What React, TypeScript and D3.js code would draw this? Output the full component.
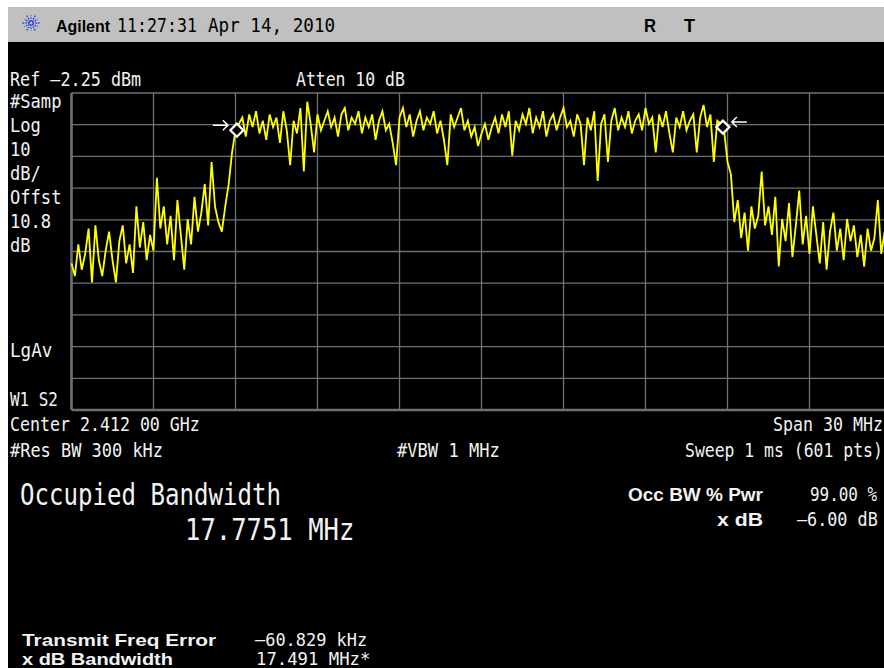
import * as d3 from "d3";

// sweep: 2.397 GHz .. 2.427 GHz, trace sampled every 125 kHz (dBm)
const spanStart = 2397;
const spanStop = 2427;
const stepMHz = 0.125;
const refLevel = -2.25;
const dbPerDiv = 10;

const traceDbm = [
  -56, -60, -50, -58, -53, -45, -62, -44, -55, -60,
  -52, -46, -55, -62, -49, -44, -56, -50, -59, -38,
  -51, -43, -55, -47, -52, -29, -45, -38, -50, -41,
  -55, -36, -47, -58, -42, -50, -35, -46, -40, -31,
  -44, -24, -38, -43, -46, -38, -31, -21, -14, -12,
  -10, -16, -9, -13, -8, -15, -11, -17, -9, -13,
  -10, -18, -8, -14, -25, -11, -15, -7, -27, -5,
  -12, -21, -9, -14, -11, -8, -13, -10, -16, -9,
  -7, -14, -10, -12, -8, -15, -10, -13, -9, -17,
  -11, -8, -14, -12, -18, -25, -10, -7, -13, -9,
  -16, -11, -8, -14, -10, -12, -8, -15, -11, -17,
  -25, -9, -13, -10, -7, -14, -11, -16, -13, -19,
  -15, -12, -17, -13, -10, -15, -9, -13, -8, -22,
  -11, -14, -9, -12, -7, -15, -10, -13, -8, -16,
  -11, -9, -14, -10, -7, -13, -11, -16, -9, -12,
  -25, -10, -14, -8, -30, -12, -9, -24, -11, -7,
  -14, -10, -13, -8, -15, -11, -9, -14, -7, -12,
  -10, -21, -9, -13, -8, -15, -21, -10, -13, -8,
  -14, -11, -9, -21, -10, -6, -13, -9, -24, -11,
  -12, -14, -24, -28, -43,
  -36, -48, -40, -52, -38, -45, -41, -27, -44, -38,
  -47, -35, -57, -42, -49, -37, -54, -44, -33, -50,
  -41, -53, -38, -47, -56, -43, -58, -46, -40, -52,
  -45, -55, -42, -49, -44, -54, -47, -57, -45, -52,
  -48, -36, -53, -46, -50, -44,
];

// occupied bandwidth markers (MHz, dBm)
const markerFreqs = [2403.05, 2420.83];
const markerLevels = [-14.0, -13.0];
const markerSides = ["left", "right"];

const sideLabels = ["#Samp", "Log", "10", "dB/", "Offst", "10.8", "dB"];

const mono = "'DejaVu Sans Mono', 'Liberation Mono', monospace";
const sans = "'Liberation Sans', 'DejaVu Sans', sans-serif";
const monoAdvance = 0.602;

// mono text squeezed horizontally to the instrument's narrow cell width
function Label({ x, y, text, cw = 10.1, size = 19, fill = "#f2f2f2" }) {
  const sx = cw / (monoAdvance * size);
  return (
    <text transform={`translate(${x},${y}) scale(${sx},1)`} fontFamily={mono} fontSize={size} fill={fill}>
      {text}
    </text>
  );
}

function BoldLabel({ x, y, text, w, size = 18, fill = "#f2f2f2" }) {
  return (
    <text
      x={x}
      y={y}
      fontFamily={sans}
      fontSize={size}
      fontWeight="bold"
      fill={fill}
      textLength={w}
      lengthAdjust="spacingAndGlyphs"
    >
      {text}
    </text>
  );
}

function Logo({ cx, cy }) {
  return (
    <g stroke="#2440d8" strokeWidth={1.4} strokeDasharray="1.6,1.1">
      {d3.range(12).map((i) => {
        const a = (i / 12) * Math.PI * 2;
        const r = i % 2 ? 7.5 : 9.5;
        return (
          <line key={i} x1={cx + Math.cos(a) * 1.5} y1={cy + Math.sin(a) * 1.5} x2={cx + Math.cos(a) * r} y2={cy + Math.sin(a) * r} />
        );
      })}
    </g>
  );
}

export default function App() {
  const width = 884;
  const height = 668;
  const x = d3.scaleLinear().domain([spanStart, spanStop]).range([71.5, 891.5]);
  const y = d3.scaleLinear().domain([refLevel - dbPerDiv * 10, refLevel]).range([410, 93]);
  const vLines = d3.range(11).map((i) => spanStart + i * 3);
  const hLines = d3.range(11).map((i) => refLevel - i * dbPerDiv);
  const line = d3
    .line()
    .x((d, i) => x(spanStart + i * stepMHz))
    .y((d) => y(d));

  return (
    <svg width={width} height={height} style={{ position: "absolute", left: 0, top: 0, display: "block" }}>
      <rect width={width} height={height} fill="#fff" />
      <rect x={8} y={7} width={width - 8} height={35} fill="#c0c0c0" />
      <rect x={8} y={42} width={width - 8} height={height - 42} fill="#000" />

      {/* title bar */}
      <Logo cx={31} cy={23} />
      <BoldLabel x={56} y={32} text="Agilent" w={54} size={17} fill="#000" />
      <Label x={117} y={32} text="11:27:31" cw={10} size={20} fill="#000" />
      <Label x={208} y={32} text="Apr 14, 2010" cw={10.6} size={20} fill="#000" />
      <BoldLabel x={644} y={32} text="R" w={12} size={19} fill="#000" />
      <BoldLabel x={684} y={32} text="T" w={11} size={19} fill="#000" />

      {/* graticule */}
      <g stroke="#707070">
        {hLines.map((v, i) => (
          <line key={"h" + i} x1={x(spanStart)} x2={x(spanStop)} y1={y(v)} y2={y(v)} strokeWidth={i === 10 ? 2.4 : 1.3} />
        ))}
        {vLines.map((f, i) => (
          <line key={"v" + i} x1={x(f)} x2={x(f)} y1={y(refLevel)} y2={y(refLevel - 100)} strokeWidth={i === 0 ? 2.6 : 1.3} />
        ))}
      </g>

      {/* trace */}
      <path d={line(traceDbm)} fill="none" stroke="#ffff00" strokeWidth={1.8} strokeLinejoin="miter" />

      {/* markers */}
      {markerFreqs.map((f, i) => {
        const mx = x(f);
        const my = y(markerLevels[i]);
        const dir = markerSides[i] === "left" ? -1 : 1;
        const a0 = mx + dir * 24;
        const a1 = mx + dir * 9;
        const ay = my - 5;
        return (
          <g key={i} stroke="#fff" fill="none">
            <path d={`M${mx},${my - 6.5}L${mx + 6.5},${my}L${mx},${my + 6.5}L${mx - 6.5},${my}Z`} fill="#000" strokeWidth={2.3} />
            <path d={`M${a0},${ay}L${a1},${ay}M${a1 + dir * 5},${ay - 5}L${a1},${ay}L${a1 + dir * 5},${ay + 5}`} strokeWidth={1.5} />
          </g>
        );
      })}

      {/* annotations */}
      <Label x={10} y={86} text="Ref –2.25 dBm" />
      <Label x={296} y={86} text="Atten 10 dB" cw={9.9} />
      {sideLabels.map((t, i) => (
        <Label key={t + i} x={10} y={108 + i * 24} text={t} cw={10.3} />
      ))}
      <Label x={10} y={357} text="LgAv" cw={10.6} />
      <Label x={10} y={406} text="W1  S2" cw={9.6} />
      <Label x={10} y={431} text="Center 2.412 00 GHz" cw={10} />
      <Label x={773} y={431} text="Span 30 MHz" cw={10} />
      <Label x={10} y={457} text="#Res BW 300 kHz" cw={10.2} />
      <Label x={397} y={457} text="#VBW 1 MHz" cw={10.3} />
      <Label x={685} y={457} text="Sweep 1 ms (601 pts)" cw={9.9} />

      <Label x={20} y={505} text="Occupied Bandwidth" cw={14.5} size={31} />
      <Label x={185} y={540} text="17.7751 MHz" cw={15.4} size={31} />

      <BoldLabel x={628} y={501} text="Occ BW % Pwr" w={135} size={19} />
      <Label x={810} y={501} text="99.00 %" cw={9.6} />
      <BoldLabel x={717} y={526} text="x dB" w={46} size={19} />
      <Label x={797} y={526} text="–6.00 dB" cw={10.1} />

      <BoldLabel x={22} y={646} text="Transmit Freq Error" w={194} size={17} />
      <BoldLabel x={22} y={665} text="x dB Bandwidth" w={151} size={17} />
      <Label x={255} y={646} text="–60.829 kHz" cw={10.2} size={18} />
      <Label x={256} y={665} text="17.491 MHz*" cw={10.4} size={18} />
    </svg>
  );
}
